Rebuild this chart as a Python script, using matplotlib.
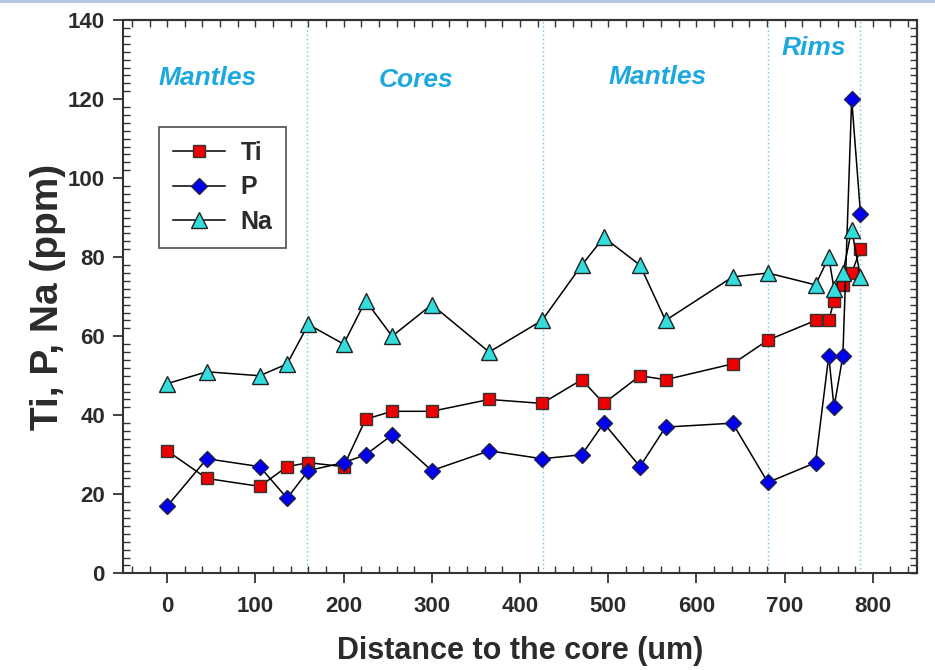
import matplotlib
matplotlib.use("Agg")
import matplotlib.pyplot as plt
from matplotlib.ticker import MultipleLocator, NullFormatter
from matplotlib.lines import Line2D

# ---- data ----
distance = [0, 45, 105, 136, 160, 200, 225, 255, 300, 365, 425, 470, 495, 536,
            565, 641, 681, 735, 750, 756, 766, 776, 786]
ti = [31, 24, 22, 27, 28, 27, 39, 41, 41, 44, 43, 49, 43, 50, 49, 53, 59, 64,
      64, 69, 73, 76, 82]
p = [17, 29, 27, 19, 26, 28, 30, 35, 26, 31, 29, 30, 38, 27, 37, 38, 23, 28,
     55, 42, 55, 120, 91]
na = [48, 51, 50, 53, 63, 58, 69, 60, 68, 56, 64, 78, 85, 78, 64, 75, 76, 73,
      80, 72, 76, 87, 75]

boundaries = [158, 426, 681, 786]
zone_names = ["Mantles", "Cores", "Mantles", "Rims"]
zone_x = [46, 282, 556, 733]
zone_y = [125.3, 124.8, 125.7, 133]

FONT = "Liberation Sans"
TXT = "#2b2b2b"
plt.rcParams['font.family'] = [FONT, 'DejaVu Sans']

fig = plt.figure(figsize=(9.35, 6.70), dpi=100)
ax = fig.add_axes([0.1316, 0.1443, 0.8491, 0.8257])

# zone boundaries
for b in boundaries:
    ax.axvline(b, color="#6ec3e6", ls=(0, (1, 2)), lw=1.0, zorder=1)

ax.plot(distance, ti, color="black", lw=1.1, marker="s", ms=9.3,
        mfc="#ee0000", mec="#333333", mew=1.0, label="Ti", zorder=3)
ax.plot(distance, p, color="black", lw=1.1, marker="D", ms=7.8,
        mfc="#0000ee", mec="#222244", mew=1.0, label="P", zorder=4)
ax.plot(distance, na, color="black", lw=1.1, marker="^", ms=11,
        mfc="#33dddd", mec="#222222", mew=1.0, label="Na", zorder=5)

for name, zx, zy in zip(zone_names, zone_x, zone_y):
    ax.text(zx, zy, name, color="#1ea8e0", fontsize=19, fontweight="bold",
            fontstyle="italic", ha="center", va="center", family=FONT)

ax.set_xlim(-50, 850)
ax.set_ylim(0, 140)

ax.xaxis.set_major_locator(MultipleLocator(100))
ax.xaxis.set_minor_locator(MultipleLocator(20))
ax.yaxis.set_major_locator(MultipleLocator(20))
ax.yaxis.set_minor_locator(MultipleLocator(2))

ax.tick_params(axis="both", which="major", direction="out", length=7,
               width=1.3, color="#333333", labelsize=16, labelcolor=TXT, pad=6)
ax.tick_params(axis="both", which="minor", direction="in", length=5,
               width=1.0, color="#333333")
ax.tick_params(axis="x", which="major", pad=9)
for lab in ax.get_xticklabels() + ax.get_yticklabels():
    lab.set_family(FONT)
    lab.set_fontweight("bold")

# mirrored ticks on top and right (inward)
secx = ax.secondary_xaxis("top")
secx.xaxis.set_major_locator(MultipleLocator(100))
secx.xaxis.set_minor_locator(MultipleLocator(20))
secx.tick_params(which="both", direction="in", length=5, width=1.0,
                 color="#333333", labeltop=False)
secx.xaxis.set_major_formatter(NullFormatter())
secy = ax.secondary_yaxis("right")
secy.yaxis.set_major_locator(MultipleLocator(20))
secy.yaxis.set_minor_locator(MultipleLocator(2))
secy.tick_params(which="both", direction="in", length=5, width=1.0,
                 color="#333333", labelright=False)
secy.yaxis.set_major_formatter(NullFormatter())
for sp in ax.spines.values():
    sp.set_color("#333333")
    sp.set_linewidth(1.5)
secx.spines["top"].set_linewidth(1.5)
secx.spines["top"].set_color("#333333")
secy.spines["right"].set_linewidth(1.5)
secy.spines["right"].set_color("#333333")

ax.set_xlabel("Distance to the core (um)", fontsize=22, fontweight="bold",
              color=TXT, family=FONT, labelpad=14)
ax.set_ylabel("Ti, P, Na (ppm)", fontsize=28, fontweight="bold",
              color=TXT, family=FONT, labelpad=1)

leg = ax.legend(loc="upper left", bbox_to_anchor=(0.0453, 0.8066),
                frameon=True, fancybox=False, edgecolor="#333333",
                prop={"family": FONT, "weight": "bold", "size": 18},
                handlelength=2.1, handletextpad=0.6, borderpad=0.55,
                labelspacing=0.42, borderaxespad=0)
leg.get_frame().set_linewidth(1.3)
for t in leg.get_texts():
    t.set_color(TXT)

# thin light-blue band at the very top of the image
fig.add_artist(Line2D([0, 1], [0.998, 0.998], transform=fig.transFigure,
                      color="#b4c7e3", lw=3))

fig.savefig("out.png", dpi=100)
